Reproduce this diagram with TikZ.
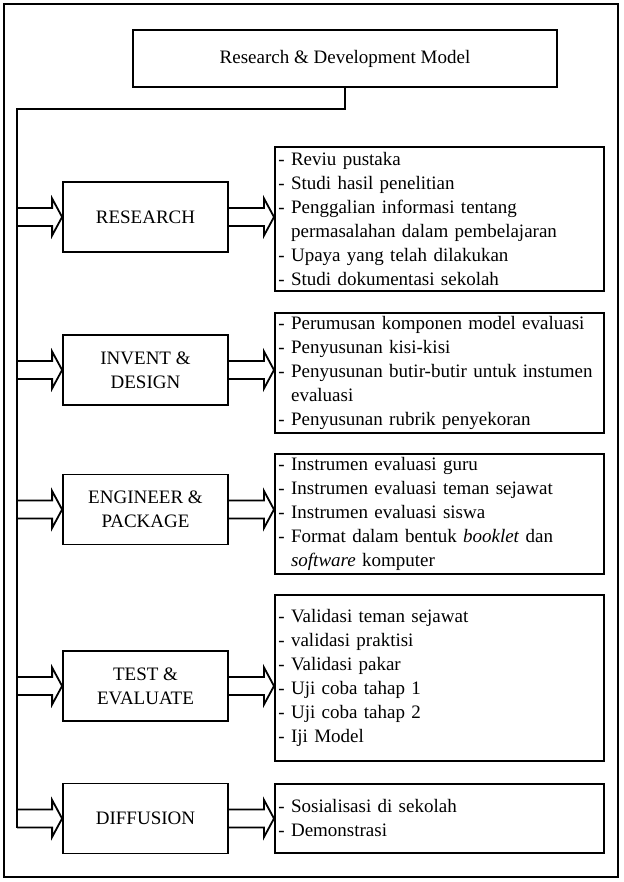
\documentclass[tikz,border=0pt]{standalone}
\usepackage{fontspec}
\setmainfont{Liberation Serif}
\usetikzlibrary{calc}

\tikzset{
    frameline/.style = {line width = 1.8pt, line join = miter},
    stagebox/.style = {draw, frameline, minimum width = 165pt, minimum height = 70pt, align = center, inner sep = 2pt},
    listbox/.style = {draw, frameline, anchor = north west, minimum width = 329pt, text width = 322pt, inner xsep = 3pt, align = left}
}

% open block arrow from #1 to #2 (tip)
\newcommand{\hollowarrow}[2]{%
    \draw[frameline] ($(#1)+(0,-9)$) -- ($(#2)+(-10,-9)$) -- ($(#2)+(-10,-18.5)$) -- (#2)
        -- ($(#2)+(-10,18.5)$) -- ($(#2)+(-10,9)$) -- ($(#1)+(0,9)$);}
\newcommand{\ind}{\phantom{- }}

\begin{document}
\begin{tikzpicture}[x = 1pt, y = -1pt, font = \fontsize{19}{24}\selectfont]
            % \draw[style = help lines, step = 50] (0,0) grid (623,882);
            \useasboundingbox (0,0) rectangle (623,882);
            \draw[frameline] (4,4) rectangle (618,877);

            \node[draw, frameline, minimum width = 424pt, minimum height = 57pt] (title) at (345,58.5) {Research \& Development Model};
            \coordinate (spine) at (17,109);

            \node[stagebox] (research) at (145.5,217) {RESEARCH};
            \node[stagebox] (invent) at (145.5,370) {INVENT \&\\DESIGN};
            \node[stagebox] (engineer) at (145.5,509.5) {ENGINEER \&\\PACKAGE};
            \node[stagebox] (test) at (145.5,686) {TEST \&\\EVALUATE};
            \node[stagebox] (diffusion) at (145.5,818.5) {DIFFUSION};

            \node[listbox, minimum height = 144pt] (researchlist) at (274,146) {- Reviu pustaka\\- Studi hasil penelitian\\- Penggalian informasi tentang\\\ind permasalahan dalam pembelajaran\\- Upaya yang telah dilakukan\\- Studi dokumentasi sekolah};
            \node[listbox, minimum height = 116pt] (inventlist) at (274,312) {- Perumusan komponen model evaluasi\\- Penyusunan kisi-kisi\\- Penyusunan butir-butir untuk instumen\\\ind evaluasi\\- Penyusunan rubrik penyekoran};
            \node[listbox, minimum height = 120pt] (engineerlist) at (274,453) {- Instrumen evaluasi guru\\- Instrumen evaluasi teman sejawat\\- Instrumen evaluasi siswa\\- Format dalam bentuk \textit{booklet} dan\\\ind\textit{software} komputer};
            \node[listbox, minimum height = 166pt] (testlist) at (274,594) {- Validasi teman sejawat\\- validasi praktisi\\- Validasi pakar\\- Uji coba tahap 1\\- Uji coba tahap 2\\- Iji Model};
            \node[listbox, minimum height = 69pt] (diffusionlist) at (274,783) {- Sosialisasi di sekolah\\- Demonstrasi};

            \draw[frameline] (title.south) |- (spine) -- ($(spine |- diffusion.west)+(0,9)$);

            \foreach \s in {research, invent, engineer, test, diffusion} {
                \hollowarrow{spine |- \s.west}{\s.west}
                \hollowarrow{\s.east}{\s list.west |- \s.east}
            }
        \end{tikzpicture}
\end{document}
